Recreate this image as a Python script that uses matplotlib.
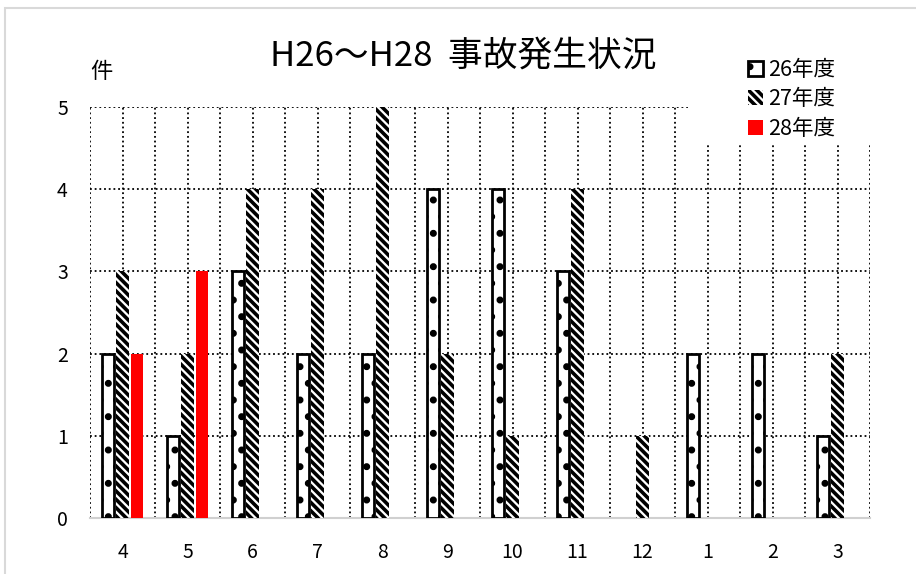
import matplotlib.pyplot as plt
import numpy as np
from matplotlib.patches import Rectangle

plt.rcParams['font.family'] = ['Noto Sans CJK JP', 'DejaVu Sans']
plt.rcParams['hatch.linewidth'] = 2.6

# データ
months = ['4', '5', '6', '7', '8', '9', '10', '11', '12', '1', '2', '3']
h26 = [2, 1, 3, 2, 2, 4, 4, 3, 0, 2, 2, 1]
h27 = [3, 2, 4, 4, 5, 2, 1, 4, 1, 0, 0, 2]
h28 = [2, 3]
series_names = ['26年度', '27年度', '28年度']

fig = plt.figure(figsize=(9.16, 5.74), dpi=100)
ax = fig.add_axes([90 / 916, 1 - 518 / 574, 780 / 916, 411 / 574])

x = np.arange(len(months))
off = 0.23
w = 0.185

b26 = ax.bar(x - off, h26, width=w, facecolor='white', edgecolor='black',
             linewidth=2, hatch='.', zorder=3, label=series_names[0])
b27 = ax.bar(x, h27, width=w, facecolor='white', edgecolor='black',
             linewidth=0, hatch='\\\\\\\\', zorder=3, label=series_names[1])
b28 = ax.bar(x[:len(h28)] + off, h28, width=w, color='#ff0000',
             linewidth=0, zorder=3, label=series_names[2])
# 0件の棒は表示しない
for cont in (b26, b27):
    for p in cont.patches:
        if p.get_height() == 0:
            p.set_visible(False)

ax.set_xlim(-0.5, len(months) - 0.5)
ax.set_ylim(0, 5)
ax.set_xticks(x)
ax.set_xticklabels(months, fontsize=14)
ax.set_yticks(range(6))
ax.tick_params(axis='x', length=0, pad=17)
ax.tick_params(axis='y', length=0, pad=16, labelsize=14)

# 点線グリッド
for v in np.arange(-0.5, len(months), 0.5):
    ax.axvline(v, color='black', lw=1.3, linestyle=(0, (1, 1.6)), zorder=1)
for h in range(1, 6):
    ax.axhline(h, color='black', lw=1.3, linestyle=(0, (1, 1.6)), zorder=1)

for s in ['top', 'right', 'left']:
    ax.spines[s].set_visible(False)
ax.spines['bottom'].set_color('#d0d0d0')
ax.spines['bottom'].set_linewidth(1.5)

# 凡例の背景
fig.add_artist(Rectangle((690 / 916, 1 - 145 / 574), 0.3, 110 / 574,
                         transform=fig.transFigure, facecolor='white',
                         edgecolor='none', zorder=2))
# 外枠
fig.add_artist(Rectangle((5 / 916, -0.05), 1.0, 1 - 8 / 574 + 0.05,
                         transform=fig.transFigure, facecolor='none',
                         edgecolor='#d9d9d9', lw=1.5, zorder=3))

leg = fig.legend(handles=[b26, b27, b28], loc='upper left',
                 bbox_to_anchor=(737 / 916, 1 - 48 / 574), frameon=False,
                 fontsize=15.5, handlelength=0.7, handleheight=0.7,
                 handletextpad=0.25, labelspacing=0.35, borderpad=0)
leg.set_zorder(4)

fig.text(463 / 916, 1 - 56 / 574, 'H26～H28  事故発生状況', fontsize=25,
         ha='center', va='center')
fig.text(101 / 916, 1 - 72 / 574, '件', fontsize=16, ha='center', va='center')

fig.savefig('out.png', dpi=100)
